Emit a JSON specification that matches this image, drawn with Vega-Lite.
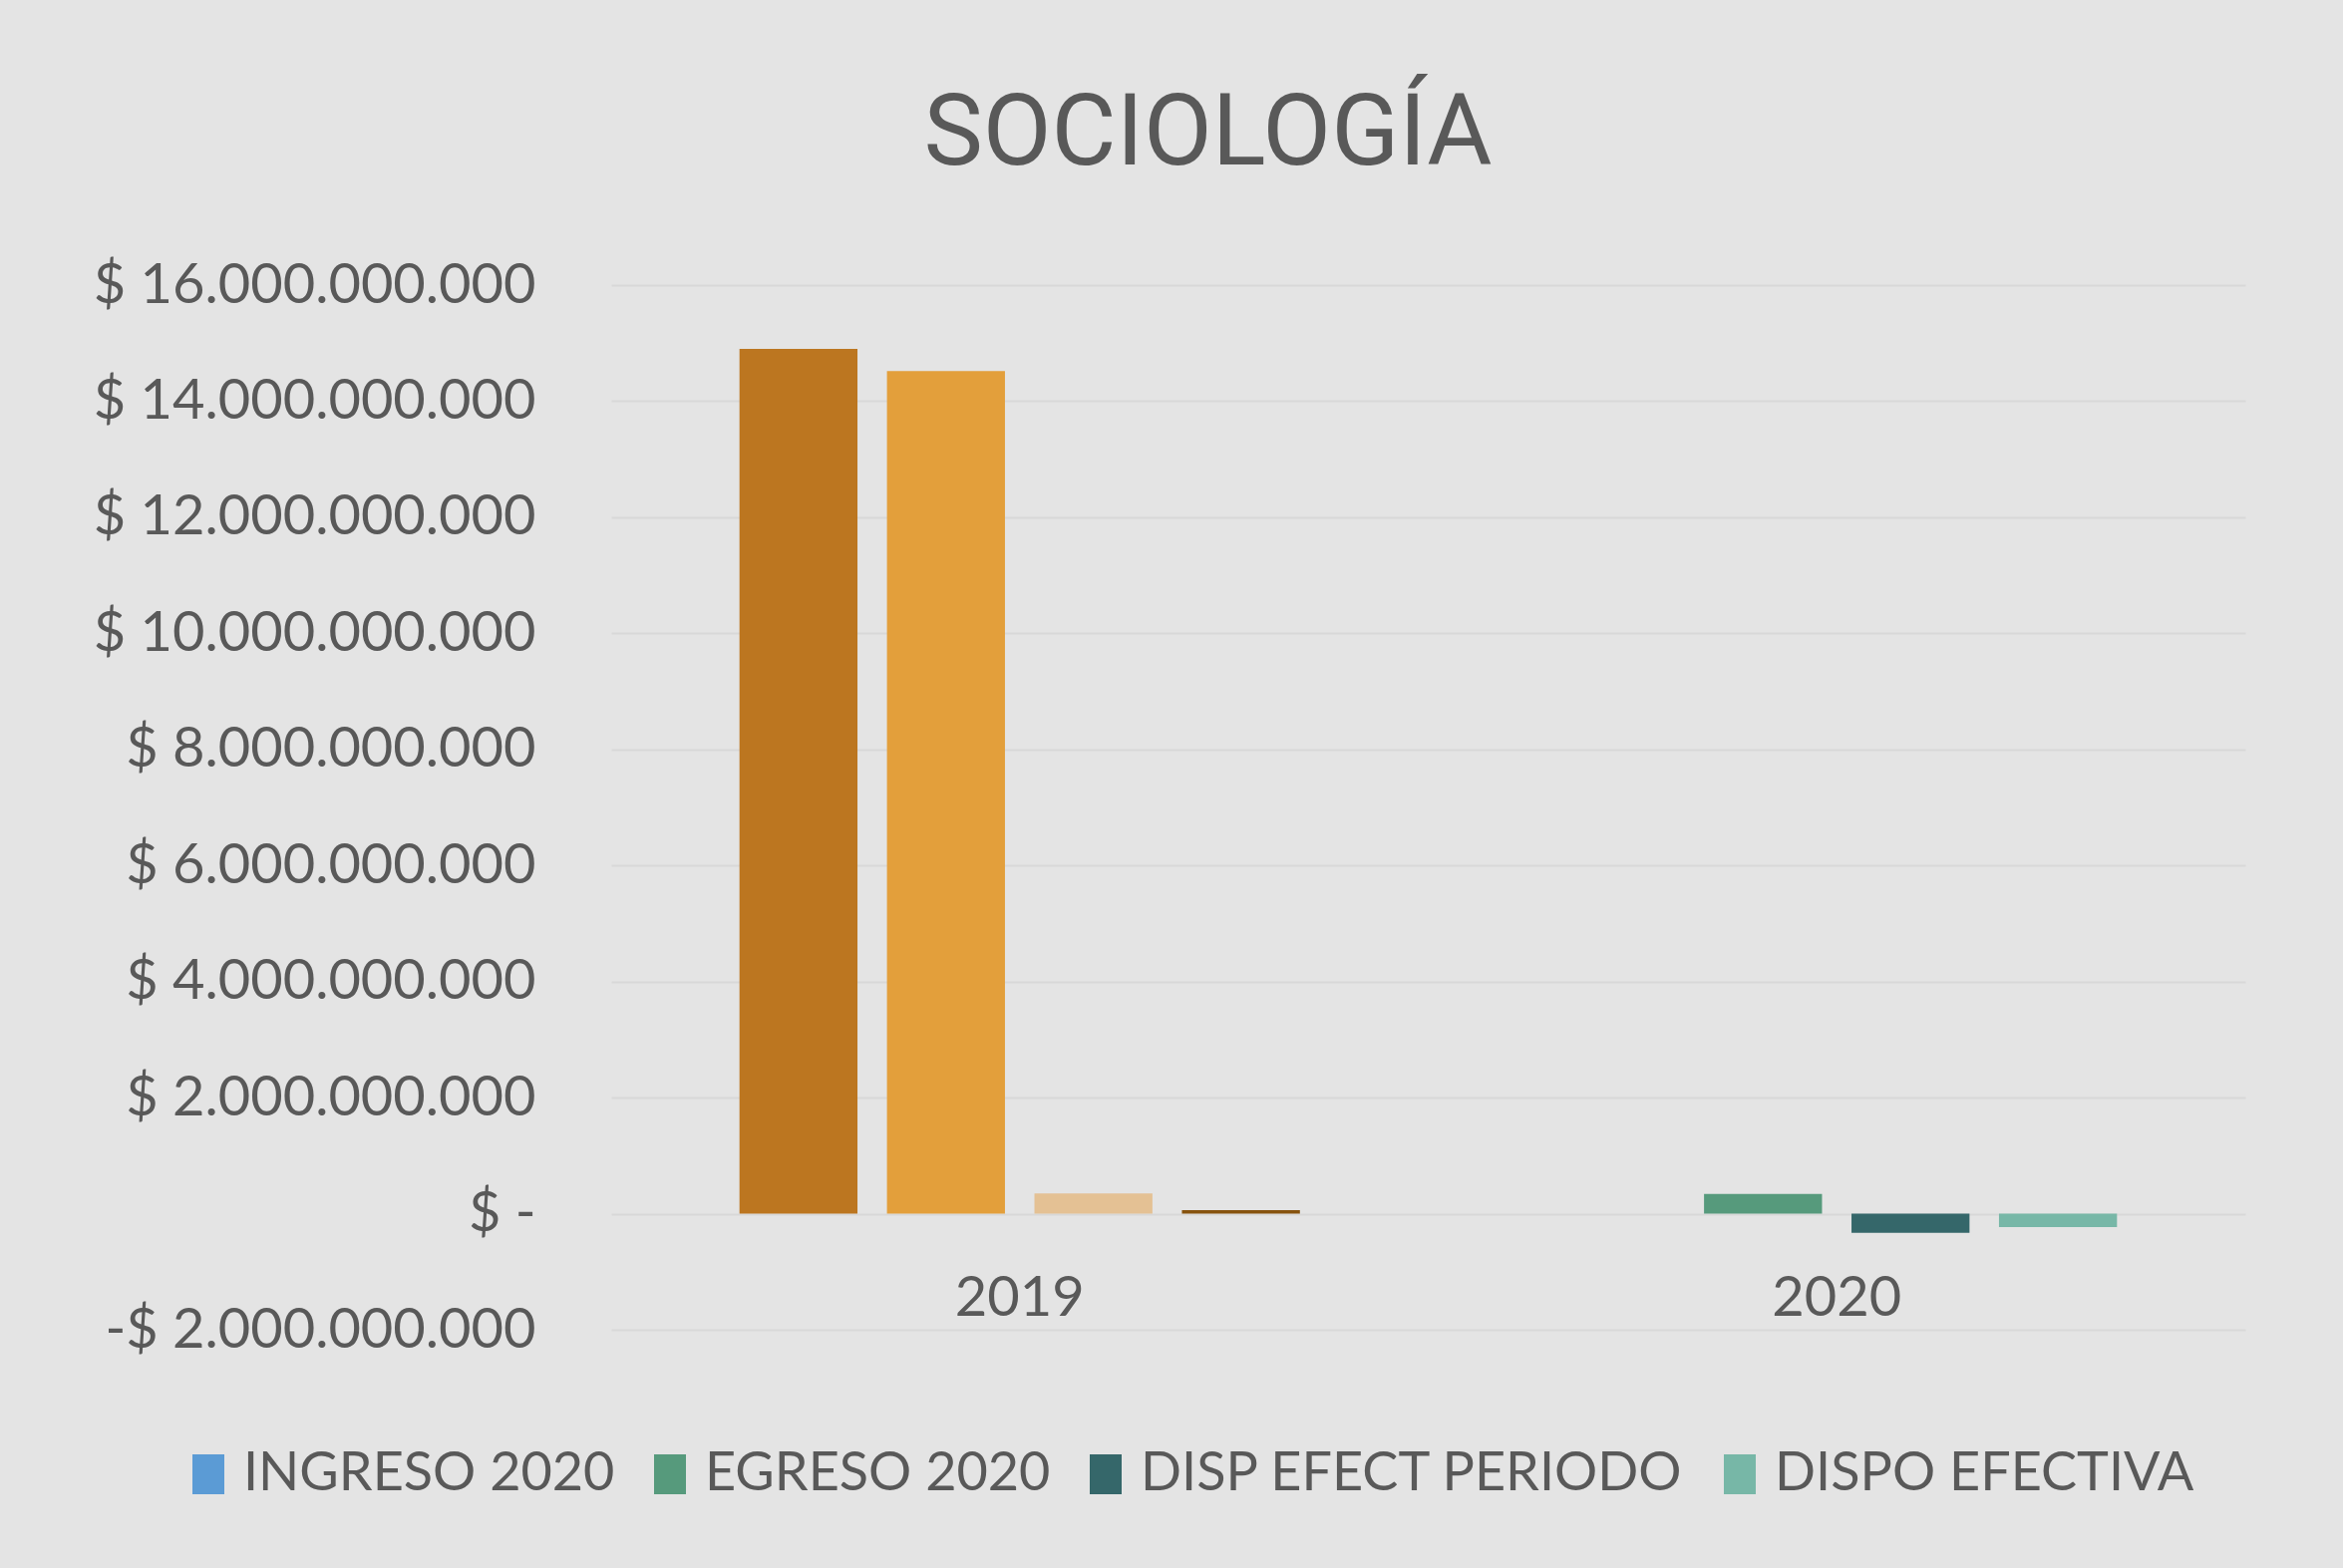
{
  "$schema": "https://vega.github.io/schema/vega-lite/v6.json",
  "width": 1639,
  "height": 1048,
  "autosize": {"type": "none"},
  "padding": {"left": 613, "top": 286, "right": 98, "bottom": 239},
  "background": "#E4E4E4",
  "config": {"view": {"stroke": null}, "font": "Lato"},
  "title": {
    "text": "SOCIOLOGÍA",
    "font": "Roboto",
    "fontSize": 100,
    "fontWeight": "normal",
    "color": "#595959",
    "anchor": "middle",
    "dx": -221,
    "offset": 72
  },
  "data": {
    "values": [
      {"anio": "2019", "serie": "INGRESO", "tono": "INGRESO 2019", "valor": 14900000000},
      {"anio": "2019", "serie": "EGRESO", "tono": "EGRESO 2019", "valor": 14520000000},
      {"anio": "2019", "serie": "DISP", "tono": "DISP 2019", "valor": 350000000},
      {"anio": "2019", "serie": "DISPO", "tono": "DISPO 2019", "valor": 60000000},
      {"anio": "2020", "serie": "INGRESO", "tono": "INGRESO 2020", "valor": 0},
      {"anio": "2020", "serie": "EGRESO", "tono": "EGRESO 2020", "valor": 340000000},
      {"anio": "2020", "serie": "DISP", "tono": "DISP EFECT PERIODO", "valor": -330000000},
      {"anio": "2020", "serie": "DISPO", "tono": "DISPO EFECTIVA", "valor": -230000000}
    ]
  },
  "mark": {"type": "bar"},
  "encoding": {
    "x": {
      "field": "anio",
      "type": "nominal",
      "sort": ["2019", "2020"],
      "scale": {"paddingInner": 0, "paddingOuter": 0},
      "axis": {
        "title": null,
        "orient": "bottom",
        "offset": -117,
        "domain": false,
        "ticks": false,
        "grid": false,
        "labelAngle": 0,
        "labelFont": "Lato",
        "labelFontSize": 56,
        "labelColor": "#595959",
        "labelPadding": 58,
        "labelBaseline": "top"
      }
    },
    "xOffset": {
      "field": "serie",
      "type": "nominal",
      "sort": ["INGRESO", "EGRESO", "DISP", "DISPO"],
      "scale": {"paddingInner": 0.2, "paddingOuter": 0.87}
    },
    "y": {
      "field": "valor",
      "type": "quantitative",
      "scale": {"domain": [-2000000000, 16000000000], "nice": false, "zero": false},
      "axis": {
        "title": null,
        "values": [-2000000000, 0, 2000000000, 4000000000, 6000000000, 8000000000, 10000000000, 12000000000, 14000000000, 16000000000],
        "grid": true,
        "gridColor": "#D8D8D8",
        "gridWidth": 2,
        "domain": false,
        "ticks": false,
        "labelFont": "Lato",
        "labelFontSize": 56,
        "labelColor": "#595959",
        "labelPadding": 76,
        "labelLimit": 2000,
        "labelExpr": "datum.value == 0 ? '$ -' : (datum.value < 0 ? '-$ ' : '$ ') + replace(format(abs(datum.value), ',.0f'), regexp(',', 'g'), '.')"
      }
    },
    "color": {
      "field": "tono",
      "type": "nominal",
      "scale": {
        "domain": ["INGRESO 2020", "EGRESO 2020", "DISP EFECT PERIODO", "DISPO EFECTIVA", "INGRESO 2019", "EGRESO 2019", "DISP 2019", "DISPO 2019"],
        "range": ["#5B9BD5", "#569A7C", "#35676A", "#77B7A7", "#BC7620", "#E39F3B", "#E4C194", "#87530E"]
      },
      "legend": {
        "values": ["INGRESO 2020", "EGRESO 2020", "DISP EFECT PERIODO", "DISPO EFECTIVA"],
        "title": null,
        "orient": "none",
        "direction": "horizontal",
        "legendX": -431,
        "legendY": 1166,
        "padding": 0,
        "symbolType": "M-0.8,-1H0.8V1H-0.8Z",
        "symbolSize": 1600,
        "symbolStrokeWidth": 0,
        "symbolOpacity": 1,
        "labelFont": "Lato",
        "labelFontSize": 54,
        "labelColor": "#595959",
        "labelOffset": 8,
        "labelLimit": 2000,
        "columnPadding": 28
      }
    }
  }
}
